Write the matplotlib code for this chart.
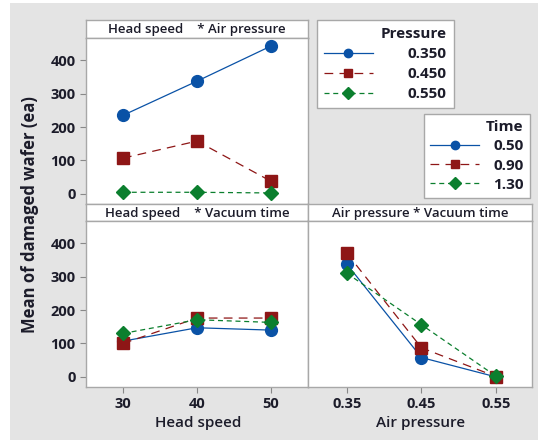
import matplotlib
matplotlib.use("Agg")
import matplotlib.pyplot as plt
from matplotlib.patches import Rectangle
from matplotlib.lines import Line2D

# ---- data ----
head_speed = [30, 40, 50]
air_pressure = [0.35, 0.45, 0.55]
pressure_labels = ["0.350", "0.450", "0.550"]
time_labels = ["0.50", "0.90", "1.30"]

# Head speed * Air pressure (series by pressure)
hs_ap_035 = [235, 337, 442]
hs_ap_045 = [107, 158, 38]
hs_ap_055 = [5, 5, 3]

# Head speed * Vacuum time (series by time)
hs_vt_050 = [107, 147, 140]
hs_vt_090 = [100, 176, 176]
hs_vt_130 = [130, 171, 163]

# Air pressure * Vacuum time (series by time)
ap_vt_050 = [337, 58, 0]
ap_vt_090 = [370, 87, 1]
ap_vt_130 = [310, 156, 2]

yticks = [0, 100, 200, 300, 400]

# ---- styles ----
BLUE = "#0a52a6"
RED = "#8e1616"
GREEN = "#0b7f2e"
TXT = "#1c1c2a"
EDGE = "#a8a8a8"
styles = [
    dict(color=BLUE, marker="o", ls="-", ms=8.5, lw=0.9),
    dict(color=RED, marker="s", ls=(0, (7, 5)), ms=8, lw=0.9),
    dict(color=GREEN, marker="D", ls=(0, (4, 3)), ms=7.5, lw=0.9),
]

plt.rcParams["font.family"] = ["Open Sans", "DejaVu Sans"]

W, H = 538, 440
fig = plt.figure(figsize=(W / 100, H / 100), dpi=100, facecolor="#e4e4e4")
fig.patches.append(Rectangle((0, 0), 10 / W, 1, transform=fig.transFigure,
                             facecolor="white", edgecolor="none", zorder=-10))
fig.patches.append(Rectangle((0, 1 - 3 / H), 1, 3 / H, transform=fig.transFigure,
                             facecolor="white", edgecolor="none", zorder=-10))

def fx(px):
    return px / W

def fy(py):
    return 1 - py / H

def make_axes(x0, x1, strip_top, plot_top, plot_bot, title):
    strip = fig.add_axes([fx(x0), fy(plot_top), fx(x1) - fx(x0), fy(strip_top) - fy(plot_top)])
    strip.set_xticks([]); strip.set_yticks([])
    strip.set_facecolor("white")
    for s in strip.spines.values():
        s.set_color(EDGE); s.set_linewidth(1.0)
    strip.text(0.5, 0.45, title, ha="center", va="center", fontsize=9.5, fontweight="semibold",
               color=TXT, transform=strip.transAxes)
    ax = fig.add_axes([fx(x0), fy(plot_bot), fx(x1) - fx(x0), fy(plot_top) - fy(plot_bot)])
    ax.set_facecolor("white")
    for s in ax.spines.values():
        s.set_color(EDGE); s.set_linewidth(1.0)
    ax.set_ylim(-30, 466)
    ax.tick_params(colors="#888888", labelcolor=TXT, labelsize=10.5, length=4, width=0.8)
    return ax

ax1 = make_axes(86, 308, 20, 38, 204, "Head speed    * Air pressure")
ax2 = make_axes(86, 308, 204, 221, 387, "Head speed    * Vacuum time")
ax3 = make_axes(308, 532, 204, 221, 387, "Air pressure * Vacuum time")

for ax in (ax1, ax2):
    ax.set_xlim(25, 55)
    ax.set_xticks(head_speed)
    ax.set_yticks(yticks)
    ax.set_yticklabels([str(v) for v in yticks], fontweight="bold")
ax1.set_xticklabels([])
ax1.tick_params(axis="x", length=0)
ax2.set_xticklabels([str(v) for v in head_speed], fontweight="bold")

ax3.set_xlim(0.298, 0.598)
ax3.set_xticks(air_pressure)
ax3.set_xticklabels([f"{v:.2f}" for v in air_pressure], fontweight="bold")
ax3.set_yticks([])

for data, st in zip([hs_ap_035, hs_ap_045, hs_ap_055], styles):
    ax1.plot(head_speed, data, **st)
for data, st in zip([hs_vt_050, hs_vt_090, hs_vt_130], styles):
    ax2.plot(head_speed, data, **st)
for data, st in zip([ap_vt_050, ap_vt_090, ap_vt_130], styles):
    ax3.plot(air_pressure, data, **st)

# axis labels
fig.text(fx(30), fy(215), "Mean of damaged wafer (ea)", rotation=90, ha="center", va="center",
         fontsize=12, fontweight="bold", color=TXT)
fig.text(fx(198), fy(423), "Head speed", ha="center", va="center", fontsize=11,
         fontweight="semibold", color=TXT)
fig.text(fx(421), fy(423), "Air pressure", ha="center", va="center", fontsize=11,
         fontweight="semibold", color=TXT)

# legends
def make_handles():
    hs = []
    for st in styles:
        d = dict(st)
        d["ms"] = 6
        hs.append(Line2D([], [], **d))
    return hs

leg1 = fig.legend(make_handles(), pressure_labels, title="Pressure", loc="upper left",
                  bbox_to_anchor=(fx(317), fy(20)), frameon=True, fancybox=False,
                  edgecolor=EDGE, facecolor="white", framealpha=1,
                  prop=dict(weight="bold", size=11), title_fontproperties=dict(weight="bold", size=11),
                  alignment="right", handlelength=3.2, handletextpad=2.3, labelspacing=0.4,
                  borderpad=0.45, borderaxespad=0)
for t in leg1.get_texts():
    t.set_color(TXT)
leg1.get_title().set_color(TXT)
leg1.get_frame().set_linewidth(1.0)

leg2 = fig.legend(make_handles(), time_labels, title="Time", loc="upper left",
                  bbox_to_anchor=(fx(424), fy(114)), frameon=True, fancybox=False,
                  edgecolor=EDGE, facecolor="white", framealpha=1,
                  prop=dict(weight="bold", size=11), title_fontproperties=dict(weight="bold", size=11),
                  alignment="right", handlelength=3.2, handletextpad=0.9, labelspacing=0.33,
                  borderpad=0.42, borderaxespad=0)
for t in leg2.get_texts():
    t.set_color(TXT)
leg2.get_title().set_color(TXT)
leg2.get_frame().set_linewidth(1.0)

fig.savefig("out.png", dpi=100, facecolor=fig.get_facecolor())
